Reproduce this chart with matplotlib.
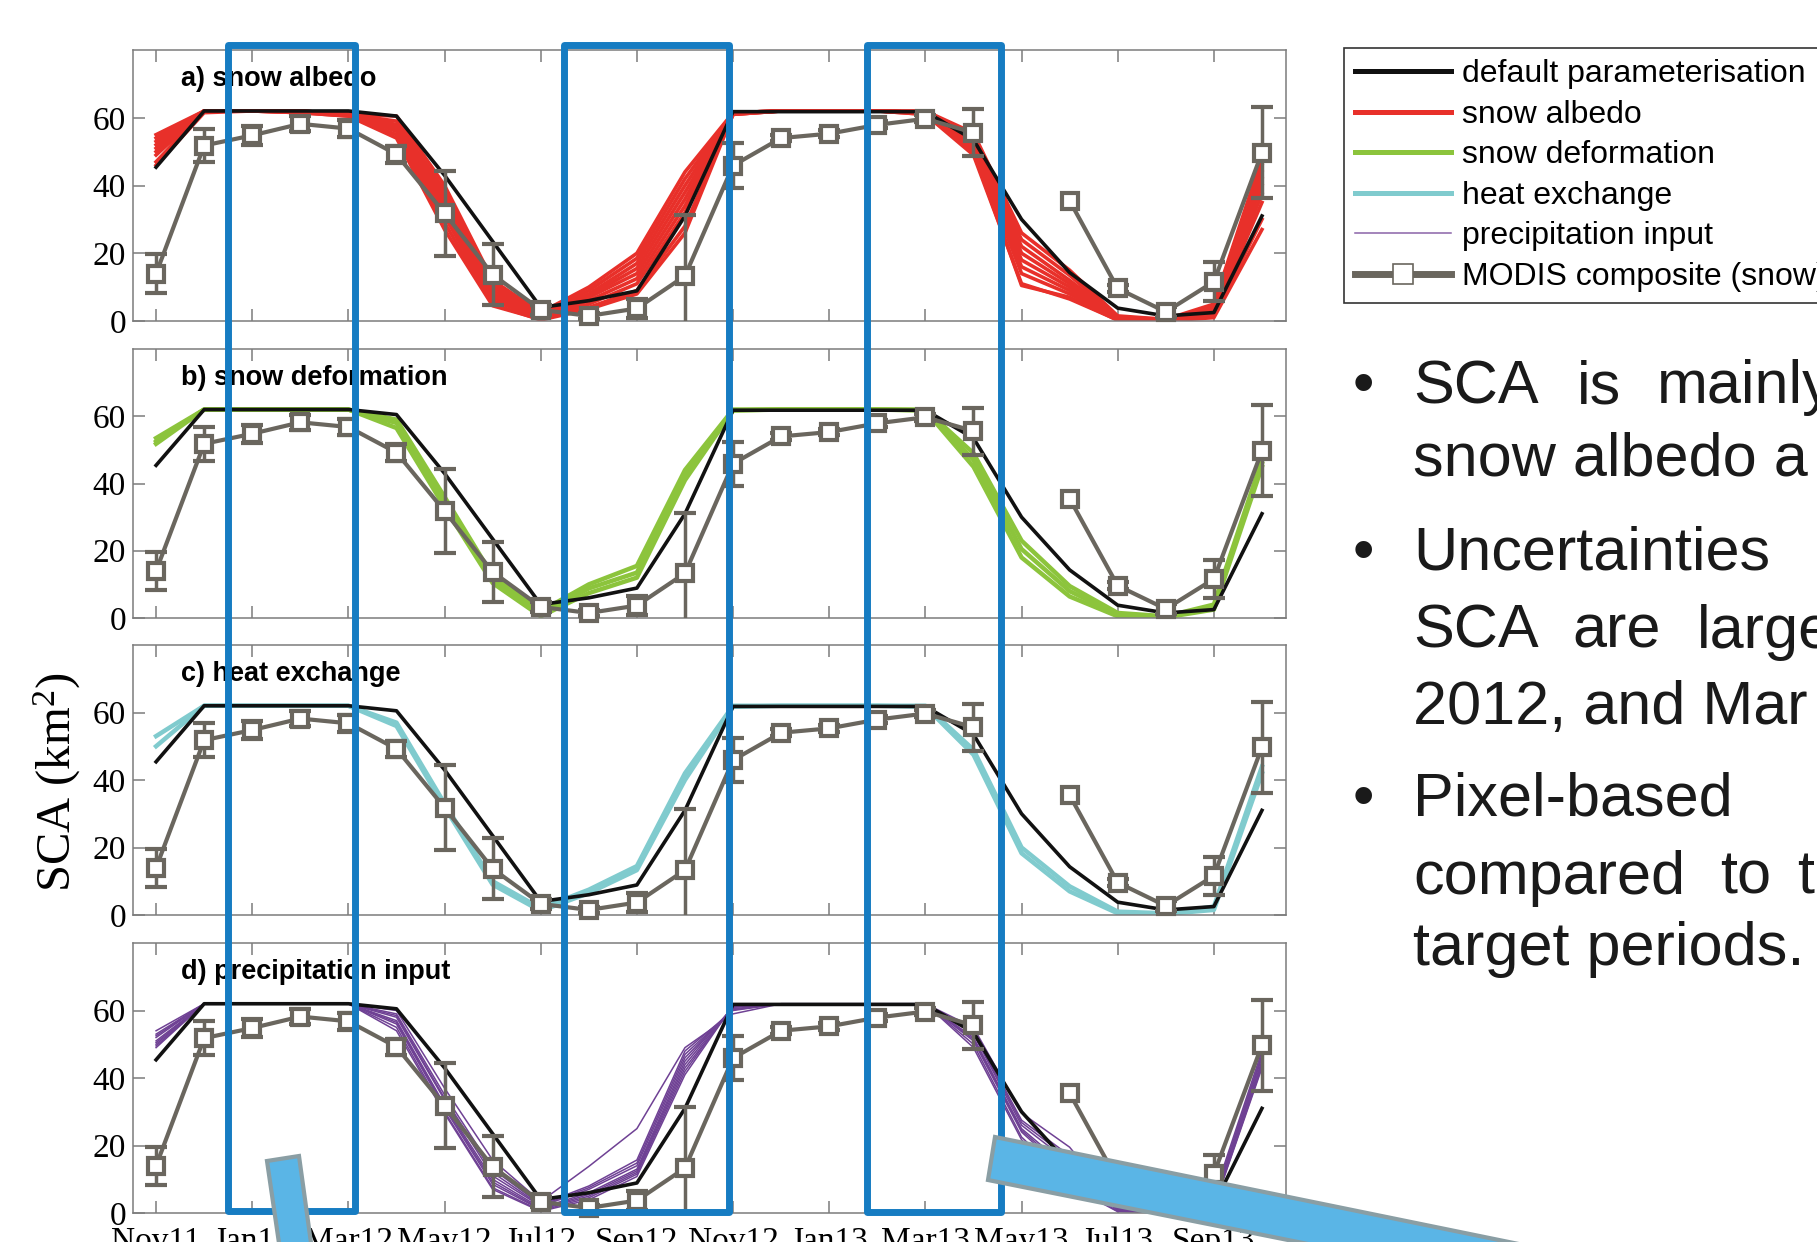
import numpy as np
import matplotlib.pyplot as plt
from matplotlib.lines import Line2D
from matplotlib.patches import Rectangle, Polygon

plt.rcParams['font.family'] = ['Liberation Sans', 'DejaVu Sans']
plt.rcParams['mathtext.fontset'] = 'custom'
plt.rcParams['mathtext.rm'] = 'Liberation Serif'
plt.rcParams['mathtext.it'] = 'Liberation Serif:italic'

# monthly values, Nov 2011 .. Oct 2013
months = ['Nov11', 'Dec11', 'Jan12', 'Feb12', 'Mar12', 'Apr12', 'May12', 'Jun12',
          'Jul12', 'Aug12', 'Sep12', 'Oct12', 'Nov12', 'Dec12', 'Jan13', 'Feb13',
          'Mar13', 'Apr13', 'May13', 'Jun13', 'Jul13', 'Aug13', 'Sep13', 'Oct13']
tick_labels = ['Nov11', 'Jan12', 'Mar12', 'May12', 'Jul12', 'Sep12',
               'Nov12', 'Jan13', 'Mar13', 'May13', 'Jul13', 'Sep13']
y_ticks = [0, 20, 40, 60]

default_sca = [45.4, 62, 62, 62, 62, 60.5, 43, 23.5, 4, 6, 8.9, 31,
               61.8, 61.8, 61.8, 61.8, 61.8, 53.5, 30, 14.3, 3.8, 1.5, 2.5, 31]
modis_sca = [14, 51.8, 54.8, 58.2, 56.8, 49.2, 31.8, 13.7, 3.3, 1.5, 3.7, 13.3,
             45.9, 54, 55.3, 57.9, 59.7, 55.6, np.nan, 35.5, 9.6, 2.7, 11.6, 49.7]
modis_err = [5.7, 5, 2.7, 2.2, 2.5, 2.5, 12.5, 9, 1.5, 1, 2.7, 18,
             6.5, 1, 1, 1, 1, 7, np.nan, np.nan, 1, 1.5, 5.7, 13.5]

albedo_runs = [
    [55, 62, 62, 62, 61, 60.5, 40, 12, 2.5, 10, 20, 44, 61.5, 62, 62, 62, 62, 55.5, 26, 15, 1.5, 0.5, 5, 48],
    [54, 62, 62, 62, 61, 59, 38.5, 11, 2.2, 9, 18.5, 42, 61.5, 62, 62, 62, 61.8, 54, 24, 13.5, 1.2, 0.4, 4.5, 46],
    [53, 62, 62, 62, 61, 58, 37, 10, 2, 8, 17, 40, 61.5, 62, 62, 62, 61.5, 53, 22, 12, 1, 0.3, 4, 44],
    [52, 62, 62, 62, 61, 57.5, 35.5, 9, 1.7, 7.5, 15.5, 38, 61.5, 62, 62, 62, 61.5, 52.5, 20, 11, 0.9, 0.3, 3.5, 42],
    [51, 62, 62, 62, 61, 57, 34, 8, 1.5, 7, 14, 36, 61.5, 62, 62, 62, 61.5, 52, 18, 10, 0.8, 0.2, 3, 40],
    [50, 62, 62, 61.8, 61, 56.5, 32.5, 7, 1.2, 6, 12.5, 34, 61.2, 62, 62, 62, 61.5, 51.5, 16, 9, 0.6, 0.1, 2.5, 37.5],
    [49, 62, 62, 61.5, 61, 56, 31, 6, 1, 5, 11, 32, 61, 62, 62, 62, 61.5, 51, 14, 8, 0.5, 0.1, 2, 35],
    [47, 62, 62, 61.5, 60.5, 54, 27, 4.5, 0.5, 4, 9, 28, 61, 62, 62, 62, 61, 49, 11, 6.5, 0.3, 0, 1.5, 30],
    [46, 61.5, 62, 61.5, 60.5, 55, 29, 5, 0.3, 3.5, 8, 26, 61, 62, 62, 62, 61, 50, 10.5, 7, 0.2, 0, 1, 27],
]
deform_runs = [
    [53.5, 62, 62, 62, 62, 59, 36, 12.5, 2, 10, 15.5, 44, 62, 62, 62, 62, 62, 49, 23, 9.5, 1.5, 0.5, 4, 47],
    [52.5, 62, 62, 62, 62, 58, 34.5, 11.5, 1.2, 8.8, 13.5, 42.5, 61.8, 62, 62, 62, 61.8, 47, 20.5, 8, 1, 0.3, 3.2, 46],
    [51.8, 62, 62, 62, 62, 56.5, 33, 10.4, 0.5, 7.4, 12, 41, 61.7, 62, 62, 62, 61.7, 45, 18, 6.4, 0.5, 0.2, 2.5, 45],
]
heat_runs = [
    [53, 62, 62, 62, 62, 57, 33, 10, 2, 7.5, 14.5, 42, 62, 62, 62, 62, 62, 49, 20, 8.5, 1, 0.5, 2.5, 44],
    [50, 62, 62, 62, 62, 56, 32, 9, 1.2, 6.5, 13.3, 40, 61.7, 62, 62, 62, 61.7, 47.5, 18.3, 7, 0.5, 0.3, 1.5, 42],
]
precip_runs = [
    [54, 62, 62, 62, 62, 60, 37, 15.7, 3.4, 13.8, 25, 49, 59, 62, 62, 62, 62, 55, 29.6, 19.5, 2, 1, 5, 48],
    [53, 62, 62, 62, 62, 59, 35, 13, 2.5, 8, 15.7, 48, 60, 62, 62, 62, 62, 54, 27.5, 17, 1.5, 0.8, 4, 47],
    [52.5, 62, 62, 62, 62, 58.5, 34, 12, 2.2, 7.5, 14.8, 47, 60.2, 62, 62, 62, 62, 53.5, 26.8, 16, 1.3, 0.7, 3.8, 46.5],
    [52, 62, 62, 62, 62, 58, 33.5, 11, 2, 7, 14, 46, 60.5, 62, 62, 62, 62, 53, 26, 15, 1.2, 0.6, 3.5, 46],
    [51, 62, 62, 62, 62, 57, 32, 10, 1.5, 6, 13, 45, 61, 62, 62, 62, 62, 52, 25, 13, 1, 0.5, 3, 45],
    [50.5, 62, 62, 62, 62, 56.5, 31.5, 9.2, 1.2, 5.5, 12.5, 44, 61, 62, 62, 62, 62, 51.5, 24.5, 12, 0.9, 0.4, 2.8, 44.5],
    [50, 62, 62, 62, 62, 56, 31, 8.5, 1, 5, 12, 43, 61, 62, 62, 62, 62, 51, 24, 11, 0.8, 0.3, 2.5, 44],
    [49.5, 62, 62, 62, 62, 55, 30, 7.5, 0.7, 4.5, 11.5, 42, 61.5, 62, 62, 62, 62, 50, 22.5, 9, 0.5, 0.2, 2, 43.5],
    [49, 62, 62, 62, 62, 54, 29.5, 7, 0.5, 3.9, 10.8, 41, 61.5, 62, 62, 62, 62, 49, 21.7, 8, 0.4, 0.1, 1.8, 43],
]

legend_labels = ['default parameterisation', 'snow albedo', 'snow deformation',
                 'heat exchange', 'precipitation input', 'MODIS composite (snow)']

bullet_lines = [
    ['SCA', 'is', 'mainly'],
    ['snow albedo a'],
    ['Uncertainties'],
    ['SCA', 'are', 'large'],
    ['2012, and Mar'],
    ['Pixel-based'],
    ['compared', 'to', 't'],
    ['target periods.'],
]

W, H = 1817, 1242
gray = '#6a665e'
frame_gray = '#7c7c7c'
blue = '#167cc2'

fig = plt.figure(figsize=(W / 100, H / 100), dpi=100)

x = np.arange(len(months))
panels = [
    ('a) snow albedo', albedo_runs, '#e8302a', 2.6),
    ('b) snow deformation', deform_runs, '#8cc43c', 3.2),
    ('c) heat exchange', heat_runs, '#80cbce', 3.2),
    ('d) precipitation input', precip_runs, '#6f4194', 1.1),
]
# axes boxes in pixels (left, top, right, bottom)
boxes = [(133, 50, 1286, 321), (133, 349, 1286, 618), (133, 645, 1286, 915), (133, 943, 1286, 1213)]

for i, (title, runs, color, lw) in enumerate(panels):
    l, t, r, b = boxes[i]
    ax = fig.add_axes([l / W, 1 - b / H, (r - l) / W, (b - t) / H])
    for run in runs:
        ax.plot(x, run, color=color, lw=lw, zorder=2)
    ax.plot(x, default_sca, color='#111111', lw=2.6, zorder=3)
    ax.errorbar(x, modis_sca, yerr=modis_err, fmt='none', ecolor=gray,
                elinewidth=2.5, capsize=8, capthick=3, zorder=4)
    ax.plot(x, modis_sca, color=gray, lw=3, marker='s', ms=11, mfc='white',
            mec=gray, mew=3, zorder=5, clip_on=False)
    ax.set_xlim(-0.48, 23.5)
    ax.set_ylim(0, 80)
    ax.set_xticks(x[::2])
    ax.set_yticks(y_ticks)
    ax.set_yticklabels([str(v) for v in y_ticks], fontfamily='Liberation Serif', fontsize=24)
    if i == 3:
        ax.set_xticklabels(tick_labels, fontfamily='Liberation Serif', fontsize=24)
    else:
        ax.set_xticklabels([])
    ax.tick_params(direction='in', top=True, right=True, length=8.5, width=1.1,
                   color=frame_gray, pad=5)
    ax.tick_params(axis='x', pad=10)
    for sp in ax.spines.values():
        sp.set_color(frame_gray)
        sp.set_linewidth(1.1)
    ax.text(0.0416, 0.893, title, transform=ax.transAxes, fontsize=19.5,
            fontweight='bold', va='center', ha='left', zorder=6)

fig.text(57 / W, 1 - 782 / H, r'SCA (km$^2$)', rotation=90, fontsize=35,
         family='Liberation Serif', va='center', ha='center')

# legend
handles = [
    Line2D([], [], color='#111111', lw=3.6),
    Line2D([], [], color='#e8302a', lw=3.6),
    Line2D([], [], color='#8cc43c', lw=3.6),
    Line2D([], [], color='#80cbce', lw=3.6),
    Line2D([], [], color='#8a63a8', lw=1.1),
    Line2D([], [], color=gray, lw=5, marker='s', ms=14, mfc='white', mec=gray, mew=1.2),
]
leg = fig.legend(handles, legend_labels, loc='upper left',
                 bbox_to_anchor=(1344 / W, 1 - 48 / H), bbox_transform=fig.transFigure,
                 borderaxespad=0, fancybox=False, framealpha=1, edgecolor='#333333',
                 fontsize=23, handlelength=3.0, handletextpad=0.35,
                 labelspacing=0.33, borderpad=0.35, numpoints=1)
leg.get_frame().set_linewidth(1.2)

# bullet text
line_base = [403, 476, 570, 648, 724, 816, 894, 965]
word_x = [[1413, 1577, 1657], [1413], [1413], [1413, 1572, 1697], [1413], [1413],
          [1413, 1720, 1797], [1413]]
for words, y, xs in zip(bullet_lines, line_base, word_x):
    for w, xx in zip(words, xs):
        fig.text(xx / W, 1 - y / H, w, fontsize=44, va='baseline', ha='left', color='#1a1a1a')
for y in [403, 570, 816]:
    fig.text(1363 / W, 1 - y / H, '\u2022', fontsize=44, va='baseline', ha='center', color='#1a1a1a')

# highlight boxes and callouts on the slide
for x0, y0, x1, y1 in [(228, 45, 355, 1211), (564, 45, 729, 1212), (867, 45, 1001, 1212)]:
    fig.add_artist(Rectangle((x0 / W, 1 - y1 / H), (x1 - x0) / W, (y1 - y0) / H,
                             transform=fig.transFigure, fill=False, ec=blue, lw=5,
                             joinstyle='round', zorder=10))
for poly in [[(267, 1161), (299, 1156), (312, 1250), (280, 1250)],
             [(995, 1137), (1548, 1250), (1338, 1250), (988, 1180)]]:
    fig.add_artist(Polygon([(px / W, 1 - py / H) for px, py in poly], closed=True,
                           transform=fig.transFigure, fc='#5ab5e6', ec='#8a9ea4',
                           lw=3, zorder=11))

fig.savefig('out.png', dpi=100)
